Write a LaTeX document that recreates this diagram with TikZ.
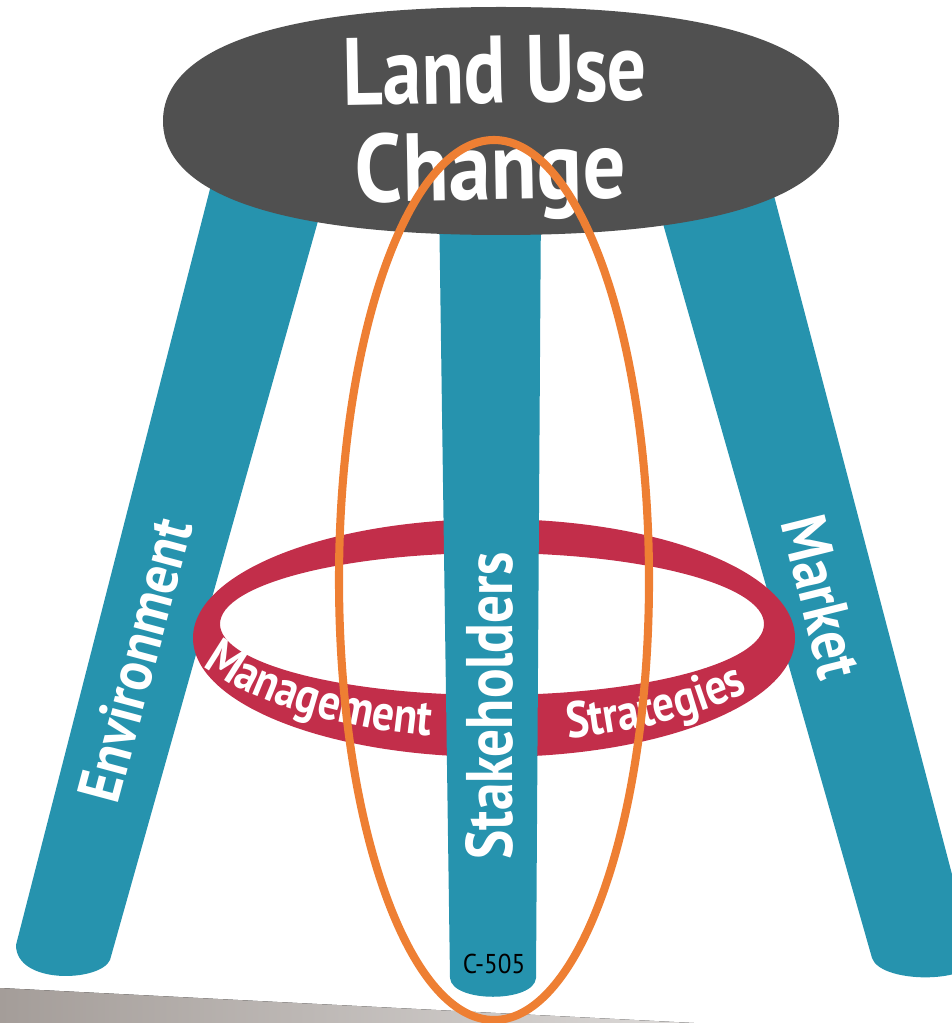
\documentclass[tikz,border=0pt]{standalone}
\usepackage{fontspec}
\usepackage{graphicx}
\usetikzlibrary{decorations.text}

% condensed humanist sans for the labels
\newfontfamily\cf{PT Sans}[FakeStretch=0.8]
\newfontfamily\ringfam{PT Sans}[FakeStretch=0.85]
\newfontfamily\smallsans{PT Sans}[FakeStretch=0.92]
\newcommand\ringfont{\ringfam\bfseries\fontsize{29}{29}\selectfont\color{white}}

\definecolor{seatgrey}{HTML}{505050}
\definecolor{legteal}{HTML}{2693AE}
\definecolor{ringred}{HTML}{C22E4A}
\definecolor{ovalorange}{HTML}{EE7F33}
\definecolor{floorgrey}{HTML}{A49D99}

\begin{document}
\begin{tikzpicture}[x=0.02cm, y=-0.02cm,
  leg/.style={fill=legteal},
  legtext/.style={text=white, inner sep=0pt, font=\cf\bfseries},
  ringtext/.style={decorate, decoration={text along path, text align=center}},
]
\useasboundingbox (0,0) rectangle (952,1023);
\clip (0,0) rectangle (952,1023);

% floor strip
\fill[left color=floorgrey, middle color=floorgrey!90, right color=floorgrey!15]
  (0,988) -- (952,1036) -- (952,1060) -- (0,1060) -- cycle;

% outer legs
\fill[leg] (220,150) -- (16,945) .. controls (16,985) and (100,982) .. (110,960) -- (338,150) -- cycle;
\fill[leg] (642,150) -- (872,958) .. controls (880,982) and (960,984) .. (975,962) -- (762,150) -- cycle;

% management ring
\fill[ringred, even odd rule]
  (494,638) ellipse [x radius=301, y radius=119]
  (492,624) ellipse [x radius=272, y radius=71];

% middle leg
\fill[leg] (439,200) -- (450,978) .. controls (452,1003) and (534,1003) .. (536,978) -- (541,200) -- cycle;

% seat
\fill[seatgrey] (501,7) .. controls (721,7) and (839,47) .. (839,121)
  .. controls (839,195) and (721,235) .. (501,235)
  .. controls (281,235) and (163,195) .. (163,121)
  .. controls (163,47) and (281,7) .. (501,7) -- cycle;

% seat title
\node[legtext, rotate=1] (title1) at (495,70) {\resizebox{6.08cm}{1.34cm}{Land Use}};
\node[legtext, anchor=base, rotate=1] (title2) at (491,200) {\resizebox{5.4cm}{1.38cm}{Change}};

% leg labels
\node[legtext, rotate=75] (env) at (135,660) {\resizebox{5.8cm}{0.86cm}{Environment}};
\node[legtext, rotate=90] (stake) at (489,706) {\resizebox{6.14cm}{0.94cm}{Stakeholders}};
\node[legtext, rotate=-76] (market) at (822,597) {\resizebox{3.3cm}{0.9cm}{Market}};

% ring labels
\path[ringtext, decoration={text={|\ringfont|Management}}]
  (202.2,665.3) arc[start angle=151, end angle=101, x radius=335, y radius=142];
\path[ringtext, decoration={text={|\ringfont|Strategies}}]
  (562.6,738.9) arc[start angle=78, end angle=39, x radius=335, y radius=142];

% code on the middle leg
\node[inner sep=0pt, font=\smallsans\fontsize{15.5}{15.5}\selectfont] (code) at (494,964) {C-505};

% highlight oval
\draw[ovalorange, line width=4.6pt] (494,580) ellipse [x radius=155, y radius=440];
\end{tikzpicture}
\end{document}
